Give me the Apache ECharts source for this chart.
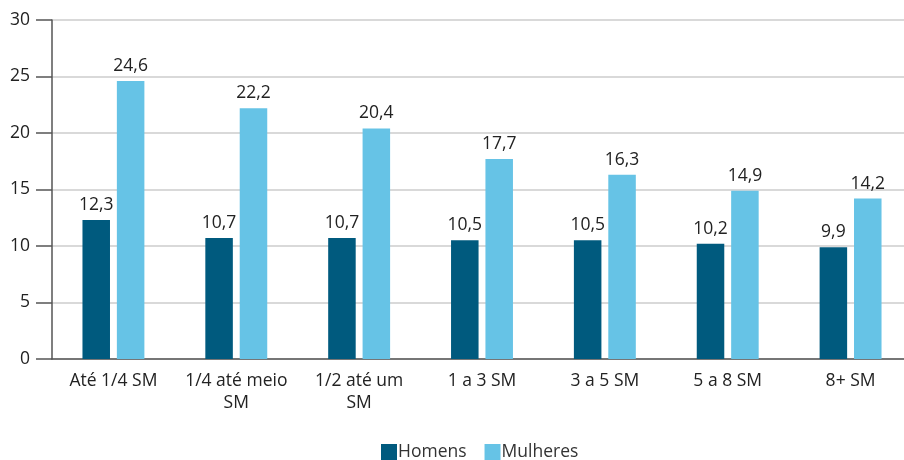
<!DOCTYPE html>
<html>
<head>
<meta charset="utf-8">
<script src="https://cdn.jsdelivr.net/npm/echarts@6/dist/echarts.min.js"></script>
<style>
  html, body { margin: 0; padding: 0; background: #fff; }
  #chart { width: 904px; height: 460px; }
</style>
</head>
<body>
<div id="chart"></div>
<script>
// dados do gráfico
var categorias = ['Até 1/4 SM', '1/4 até meio\nSM', '1/2 até um\nSM', '1 a 3 SM', '3 a 5 SM', '5 a 8 SM', '8+ SM'];
var homens = [12.3, 10.7, 10.7, 10.5, 10.5, 10.2, 9.9];
var mulheres = [24.6, 22.2, 20.4, 17.7, 16.3, 14.9, 14.2];
var ticksY = [0, 5, 10, 15, 20, 25, 30];

var fonte = '"Open Sans", "Noto Sans", sans-serif';

function virgula(v) {
    return String(v).replace('.', ',');
}

var chart = echarts.init(document.getElementById('chart'));

var rotulo = {
    show: true,
    position: 'top',
    distance: 6,
    fontSize: 17.5,
    color: '#222',
    formatter: function (p) { return virgula(p.value); }
};

var option = {
    animation: false,
    textStyle: { fontFamily: fonte },
    grid: {
        left: 52,
        right: -8,   // o eixo continua um pouco além da borda direita
        top: 20,
        bottom: 101,
        outerBoundsMode: 'none'
    },
    legend: {
        top: 443,
        left: 381,
        padding: 0,
        itemWidth: 16,
        itemHeight: 16,
        itemGap: 18,
        icon: 'rect',
        textStyle: { fontSize: 17.5, color: '#333', fontFamily: fonte, padding: [0, 0, 0, -4] },
        data: ['Homens', 'Mulheres']
    },
    xAxis: {
        type: 'category',
        data: categorias,
        axisLine: { lineStyle: { color: '#555', width: 1.5 } },
        axisTick: { length: 15, lineStyle: { color: '#555', width: 1.5 } },
        axisLabel: {
            fontSize: 17.5,
            color: '#222',
            margin: 11,
            lineHeight: 22,
            interval: 0
        }
    },
    yAxis: {
        type: 'value',
        min: 0,
        max: ticksY[ticksY.length - 1],
        interval: 5,
        axisLine: { show: true, lineStyle: { color: '#555', width: 1.5 } },
        axisTick: { show: true, length: 16, lineStyle: { color: '#555', width: 1.5 } },
        axisLabel: { fontSize: 17.5, color: '#222', margin: 22 },
        splitLine: { lineStyle: { color: '#cccccc', width: 1.5 } }
    },
    series: [
        {
            name: 'Homens',
            type: 'bar',
            data: homens,
            barWidth: '22.4%',
            barGap: '25%',
            itemStyle: { color: '#005a7e' },
            label: rotulo
        },
        {
            name: 'Mulheres',
            type: 'bar',
            data: mulheres,
            barWidth: '22.4%',
            itemStyle: { color: '#66c3e6' },
            label: rotulo
        }
    ]
};

chart.setOption(option);
</script>
</body>
</html>
